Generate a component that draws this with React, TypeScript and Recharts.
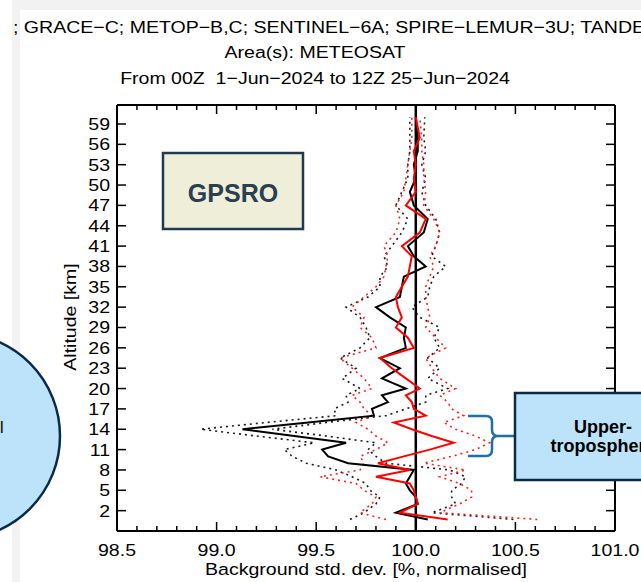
import { ComposedChart, Line, XAxis, YAxis, ReferenceLine } from 'recharts'

// altitude levels (km) of the profiles
const altitude = [0.7, 1.7, 3, 4, 5, 6, 7, 8, 9, 10, 11, 12, 13, 14, 15, 16, 17, 18, 19, 20, 21.5, 23, 24.5, 26, 27.5, 29, 30.5, 32, 33.5, 35, 36.5, 38, 39.5, 41, 43, 45, 47, 49, 51, 53, 55, 57, 60]

// black: mean and the dotted spread either side
const blackMean = [100.06, 99.90, 100.01, 100.00, 99.97, 99.95, 99.97, 99.99, 99.66, 99.56, 99.53, 99.65, 99.39, 99.13, 99.46, 99.79, 99.78, 99.86, 99.83, 99.95, 99.83, 99.92, 99.82, 99.95, 99.94, 99.95, 99.87, 99.80, 99.92, 99.93, 99.94, 100.05, 99.99, 99.96, 100.04, 100.06, 99.99, 99.97, 100.00, 99.99, 100.01, 100.01, 100.00]
const blackLow = [99.67, 99.74, 99.80, 99.82, 99.77, 99.75, 99.68, 99.60, 99.45, 99.38, 99.34, 99.49, 99.20, 98.92, 99.25, 99.60, 99.59, 99.66, 99.65, 99.72, 99.63, 99.70, 99.62, 99.72, 99.77, 99.75, 99.72, 99.65, 99.76, 99.82, 99.82, 99.86, 99.84, 99.88, 99.93, 99.96, 99.90, 99.93, 99.96, 99.96, 99.97, 99.97, 99.97]
const blackHigh = [100.49, 100.08, 100.20, 100.18, 100.18, 100.23, 100.25, 100.17, 99.85, 99.80, 99.76, 99.80, 99.55, 99.28, 99.55, 99.85, 99.95, 100.05, 100.05, 100.16, 100.06, 100.12, 100.06, 100.12, 100.09, 100.12, 100.02, 99.98, 100.06, 100.07, 100.09, 100.15, 100.08, 100.10, 100.12, 100.10, 100.05, 100.03, 100.05, 100.03, 100.05, 100.04, 100.045]

// red: mean and the dotted spread either side
const redMean = [100.16, 99.92, 100.01, 100.00, 99.99, 99.97, 99.80, 99.97, 99.81, 99.94, 100.07, 100.19, 100.08, 99.98, 99.89, 100.05, 99.99, 99.98, 99.95, 100.02, 99.95, 99.88, 99.82, 99.99, 99.96, 99.90, 99.93, 99.91, 99.90, 99.93, 99.96, 99.97, 99.98, 99.93, 100.02, 100.05, 99.95, 100.00, 99.99, 100.00, 99.99, 100.02, 100.00]
const redLow = [99.85, 99.72, 99.78, 99.80, 99.74, 99.70, 99.52, 99.72, 99.74, 99.72, 99.80, 99.86, 99.80, 99.76, 99.70, 99.78, 99.74, 99.72, 99.68, 99.78, 99.74, 99.68, 99.62, 99.80, 99.78, 99.72, 99.74, 99.68, 99.74, 99.80, 99.84, 99.85, 99.86, 99.84, 99.90, 99.92, 99.90, 99.94, 99.95, 99.96, 99.97, 99.98, 99.98]
const redHigh = [100.61, 100.12, 100.22, 100.28, 100.28, 100.22, 100.12, 100.25, 100.04, 100.18, 100.30, 100.37, 100.30, 100.20, 100.14, 100.24, 100.18, 100.16, 100.12, 100.20, 100.12, 100.08, 100.05, 100.15, 100.10, 100.05, 100.07, 100.06, 100.05, 100.05, 100.07, 100.09, 100.07, 100.10, 100.12, 100.09, 100.04, 100.05, 100.04, 100.04, 100.03, 100.03, 100.02]

const xTicks = [98.5, 98.6, 98.7, 98.8, 98.9, 99.0, 99.1, 99.2, 99.3, 99.4, 99.5, 99.6, 99.7, 99.8, 99.9, 100.0, 100.1, 100.2, 100.3, 100.4, 100.5, 100.6, 100.7, 100.8, 100.9, 101.0]
const xLabels = [98.5, 99.0, 99.5, 100.0, 100.5, 101.0]
const yTicks = [2, 5, 8, 11, 14, 17, 20, 23, 26, 29, 32, 35, 38, 41, 44, 47, 50, 53, 56, 59]

const data = altitude.map((alt, i) => ({
  alt,
  bMean: blackMean[i],
  bLow: blackLow[i],
  bHigh: blackHigh[i],
  rMean: redMean[i],
  rLow: redLow[i],
  rHigh: redHigh[i],
}))

const FONT = "'Liberation Sans', Arial, Helvetica, sans-serif"
const SX = 1.15 // the plot fonts are a bit wide

function WideText({ x, y, anchor = 'middle', size = 17, rotate = 0, children }: any) {
  return (
    <text
      transform={`translate(${x},${y}) rotate(${rotate}) scale(${SX},1)`}
      textAnchor={anchor}
      fontSize={size}
      fontFamily={FONT}
      fill="#000"
    >
      {children}
    </text>
  )
}

const isMajor = (v: number) => xLabels.some(l => Math.abs(l - v) < 1e-6)

function BottomTick(props: any) {
  const { x, y, payload } = props
  const major = isMajor(payload.value)
  return (
    <g>
      <line x1={x} y1={y} x2={x} y2={y - (major ? 9 : 5)} stroke="#000" strokeWidth={1.5} />
      {major && <WideText x={x} y={y + 25}>{payload.value.toFixed(1)}</WideText>}
    </g>
  )
}

function TopTick(props: any) {
  const { x, y, payload } = props
  const major = isMajor(payload.value)
  return <line x1={x} y1={y} x2={x} y2={y + (major ? 9 : 5)} stroke="#000" strokeWidth={1.5} />
}

function LeftTick(props: any) {
  const { x, y, payload } = props
  return (
    <g>
      <line x1={x} y1={y} x2={x + 9} y2={y} stroke="#000" strokeWidth={1.5} />
      <WideText x={x - 7} y={y + 6} anchor="end">{payload.value}</WideText>
    </g>
  )
}

function RightTick(props: any) {
  const { x, y } = props
  return <line x1={x} y1={y} x2={x - 9} y2={y} stroke="#000" strokeWidth={1.5} />
}

const axisLine = { stroke: '#000', strokeWidth: 2 }

export default function App() {
  return (
    <div style={{ position: 'absolute', left: 0, top: 0, width: 641, height: 582, background: '#fff', overflow: 'hidden', fontFamily: FONT }}>
      <div style={{ position: 'absolute', left: 12, top: 0, width: 8, height: 582, background: '#f2f2f2' }} />
      <div style={{ position: 'absolute', left: 12, top: 0, width: 629, height: 10, background: '#f2f2f2' }} />
      <div style={{ position: 'absolute', left: 0, top: 0 }}>
        <ComposedChart layout="vertical" width={641} height={582} data={data} margin={{ top: 104, right: 25, bottom: 50, left: 116 }}>
          <XAxis type="number" domain={[98.5, 101]} ticks={xTicks} interval={0} allowDataOverflow
            height={1} tickSize={0} tickMargin={0} tickLine={false} axisLine={axisLine} tick={BottomTick} />
          <XAxis xAxisId="top" orientation="top" type="number" domain={[98.5, 101]} ticks={xTicks} interval={0} allowDataOverflow
            height={1} tickSize={0} tickMargin={0} tickLine={false} axisLine={axisLine} tick={TopTick} />
          <YAxis type="number" dataKey="alt" domain={[-1, 61.8]} ticks={yTicks} interval={0} allowDataOverflow reversed
            width={1} tickSize={0} tickMargin={0} tickLine={false} axisLine={axisLine} tick={LeftTick} />
          <YAxis yAxisId="right" orientation="right" type="number" dataKey="alt" domain={[-1, 61.8]} ticks={yTicks} interval={0} allowDataOverflow reversed
            width={1} tickSize={0} tickMargin={0} tickLine={false} axisLine={axisLine} tick={RightTick} />
          <Line dataKey="bLow" type="linear" stroke="#1a1a1a" strokeWidth={1.6} strokeDasharray="2 4" dot={false} isAnimationActive={false} />
          <Line dataKey="bHigh" type="linear" stroke="#1a1a1a" strokeWidth={1.6} strokeDasharray="2 4" dot={false} isAnimationActive={false} />
          <Line dataKey="rLow" type="linear" stroke="#ff2020" strokeWidth={1.6} strokeDasharray="2 4" dot={false} isAnimationActive={false} />
          <Line dataKey="rHigh" type="linear" stroke="#ff2020" strokeWidth={1.6} strokeDasharray="2 4" dot={false} isAnimationActive={false} />
          <ReferenceLine x={100} stroke="#000" strokeWidth={2.5} />
          <Line dataKey="bMean" type="linear" stroke="#000" strokeWidth={2} dot={false} isAnimationActive={false} />
          <Line dataKey="rMean" type="linear" stroke="#ff0000" strokeWidth={2} dot={false} isAnimationActive={false} />
        </ComposedChart>
      </div>
      <svg width={641} height={582} style={{ position: 'absolute', left: 0, top: 0, pointerEvents: 'none' }}>
        <WideText x={13} y={33} anchor="start">; GRACE−C; METOP−B,C; SENTINEL−6A; SPIRE−LEMUR−3U; TANDEM−X</WideText>
        <WideText x={315} y={58}>Area(s): METEOSAT</WideText>
        <WideText x={315} y={84}>{'From 00Z \u00a01−Jun−2024 to 12Z 25−Jun−2024'}</WideText>
        <WideText x={366} y={575}>Background std. dev. [%, normalised]</WideText>
        <WideText x={76} y={317} rotate={-90}>Altitude [km]</WideText>

        <rect x={163} y={153} width={140} height={76} fill="#efefd9" stroke="#1d3a56" strokeWidth={2.5} />
        <text x={233} y={202} textAnchor="middle" fontSize={25} fontWeight="bold" fontFamily={FONT} fill="#2c3e50">GPSRO</text>

        <circle cx={-43} cy={436} r={103} fill="#bde3fa" stroke="#0b2a48" strokeWidth={2.5} />
        <text x={0} y={433} fontSize={16} fontFamily={FONT} fill="#000">l</text>

        <path d="M468,416 H486 Q492,416 492,422 V430 Q492,436 498,436 Q492,436 492,442 V450 Q492,456 486,456 H468 M498,436 H515"
          fill="none" stroke="#1e6ea7" strokeWidth={2.5} />
        <rect x={515} y={393} width={150} height={87} fill="#bde3fa" stroke="#0b2a48" strokeWidth={2.5} />
        <text x={603} y={433} textAnchor="middle" fontSize={18} fontWeight="bold" fontFamily={FONT} fill="#000">Upper-</text>
        <text x={603} y={452} textAnchor="middle" fontSize={18} fontWeight="bold" fontFamily={FONT} fill="#000">troposphere</text>
      </svg>
    </div>
  )
}
